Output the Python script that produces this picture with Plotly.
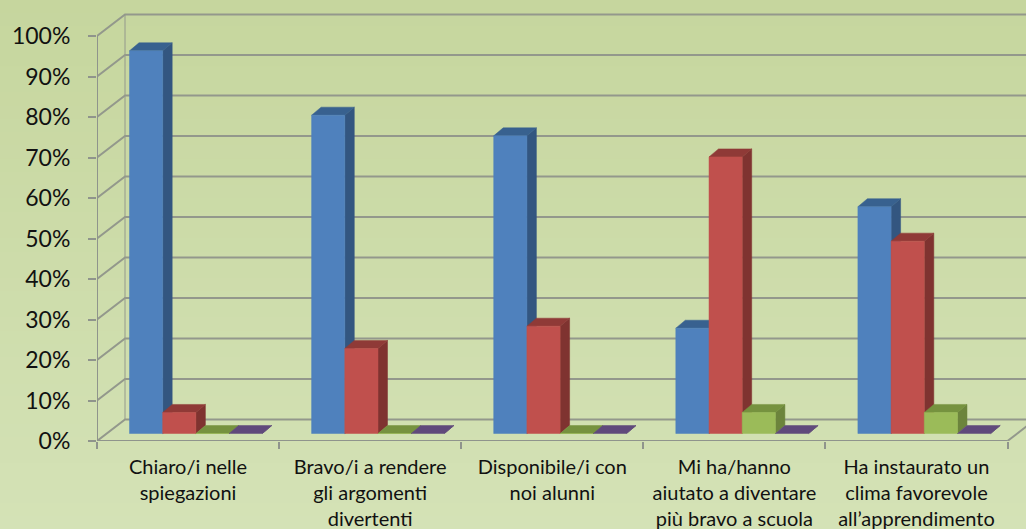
import plotly.graph_objects as go

categories = [
    "Chiaro/i nelle<br>spiegazioni",
    "Bravo/i a rendere<br>gli argomenti<br>divertenti",
    "Disponibile/i con<br>noi alunni",
    "Mi ha/hanno<br>aiutato a diventare<br>più bravo a scuola",
    "Ha instaurato un<br>clima favorevole<br>all’apprendimento",
]
blue_values = [94.5, 78.6, 73.5, 26.0, 56.0]
red_values = [5.2, 21.0, 26.5, 68.3, 47.5]
green_values = [0, 0, 0, 5.2, 5.2]
purple_values = [0, 0, 0, 0, 0]
y_ticks = [0, 10, 20, 30, 40, 50, 60, 70, 80, 90, 100]

series = [
    (blue_values, "#4F81BD", "#335680", "#38618F"),
    (red_values, "#C0504D", "#7F3330", "#8F3A37"),
    (green_values, "#9BBB59", "#6C843C", "#76923F"),
    (purple_values, "#8064A2", "#5A4673", "#604A7B"),
]

W, H = 1026, 529
PX_PER_CAT = 182.1
PX_PER_PCT = 4.05
L, B = 97, 88
x_min = -0.5
x_max = x_min + (W - L) / PX_PER_CAT
y_max = (H - B) / PX_PER_PCT

wall_dx, wall_dy = 28 / PX_PER_CAT, 21.5 / PX_PER_PCT
bar_w = 33.2 / PX_PER_CAT
group_start = -0.5 + (129.5 - 97 - 9.5) / PX_PER_CAT
front_dx, front_dy = 9.5 / PX_PER_CAT, 7.5 / PX_PER_PCT
depth_dx, depth_dy = 9.5 / PX_PER_CAT, 8 / PX_PER_PCT

GRID = "#93988C"
AXIS = "#8F948C"
fig = go.Figure()


def line(xs, ys, color=GRID, width=2):
    fig.add_trace(go.Scatter(x=xs, y=ys, mode="lines", line=dict(color=color, width=width),
                             showlegend=False, hoverinfo="skip", cliponaxis=False))


# walls: one L-shaped line per tick
for v in y_ticks:
    line([x_min, x_min + wall_dx, x_max + wall_dx],
         [v, v + wall_dy, v + wall_dy])
line([x_min + wall_dx, x_min + wall_dx], [wall_dy, 100 + wall_dy], GRID, 1)
line([4.5, 4.5 + wall_dx], [0, wall_dy])
line([x_min, x_min], [0, 100], AXIS, 2)
line([x_min, 4.5], [0, 0], AXIS, 2)


def face_trace(xs, ys, color):
    fig.add_trace(go.Scatter(x=xs, y=ys, mode="lines", fill="toself", fillcolor=color,
                             line=dict(color=color, width=0.5), showlegend=False,
                             hoverinfo="skip"))


for s_idx, (vals, front_c, side_c, top_c) in enumerate(series):
    fx, fy, sx, sy, tx, ty = [], [], [], [], [], []
    for c_idx, v in enumerate(vals):
        x0 = c_idx + group_start + s_idx * bar_w + front_dx
        x1 = x0 + bar_w
        y0 = front_dy
        y1 = front_dy + v
        fx += [x0, x1, x1, x0, x0, None]
        fy += [y0, y0, y1, y1, y0, None]
        sx += [x1, x1 + depth_dx, x1 + depth_dx, x1, x1, None]
        sy += [y0, y0 + depth_dy, y1 + depth_dy, y1, y0, None]
        tx += [x0, x1, x1 + depth_dx, x0 + depth_dx, x0, None]
        ty += [y1, y1, y1 + depth_dy, y1 + depth_dy, y1, None]
    face_trace(sx, sy, side_c)
    face_trace(tx, ty, top_c)
    if max(vals) > 0:
        face_trace(fx, fy, front_c)

# vertical background gradient
TOP = (198, 214, 158)
BOTTOM = (212, 226, 182)
bands = 40
shapes = []
plot_h = H - B
for i in range(bands):
    t = i / (bands - 1)
    col = tuple(round(a + (b - a) * t) for a, b in zip(TOP, BOTTOM))
    top_px = H * i / bands
    bot_px = H * (i + 1) / bands + 1
    shapes.append(dict(type="rect", xref="paper", yref="paper", layer="below",
                       x0=-0.2, x1=1.1,
                       y0=(plot_h - bot_px) / plot_h, y1=(plot_h - top_px) / plot_h,
                       fillcolor="rgb(%d,%d,%d)" % col, line=dict(width=0)))

fig.update_layout(
    width=W, height=H,
    margin=dict(l=L, r=0, t=0, b=B, pad=0, autoexpand=False),
    paper_bgcolor="rgb(205,220,170)",
    plot_bgcolor="rgba(0,0,0,0)",
    showlegend=False,
    shapes=shapes,
    font=dict(family="Lato, Noto Sans, sans-serif", color="#111111"),
    xaxis=dict(range=[x_min, x_max], showgrid=False, zeroline=False, showline=False,
               automargin=False,
               tickmode="array", tickvals=list(range(len(categories))),
               ticktext=categories,
               ticks="", ticklen=0, tickangle=0, tickfont=dict(size=20),
               ticklabelstandoff=12,
               minor=dict(tickmode="array", tickvals=[i - 0.5 for i in range(len(categories) + 1)],
                          ticks="outside", ticklen=7, tickwidth=2, tickcolor=AXIS,
                          showgrid=False)),
    yaxis=dict(range=[0, y_max], showgrid=False, zeroline=False, showline=False,
               automargin=False,
               tickmode="array", tickvals=y_ticks, ticktext=["%d%%" % v for v in y_ticks],
               ticks="outside", ticklen=8, tickwidth=2, tickcolor=AXIS,
               tickfont=dict(size=23), ticklabelstandoff=13),
)
fig.write_html("out.html", config={"displayModeBar": False},
               post_script="document.body.style.margin='0';document.body.style.overflow='hidden';")
